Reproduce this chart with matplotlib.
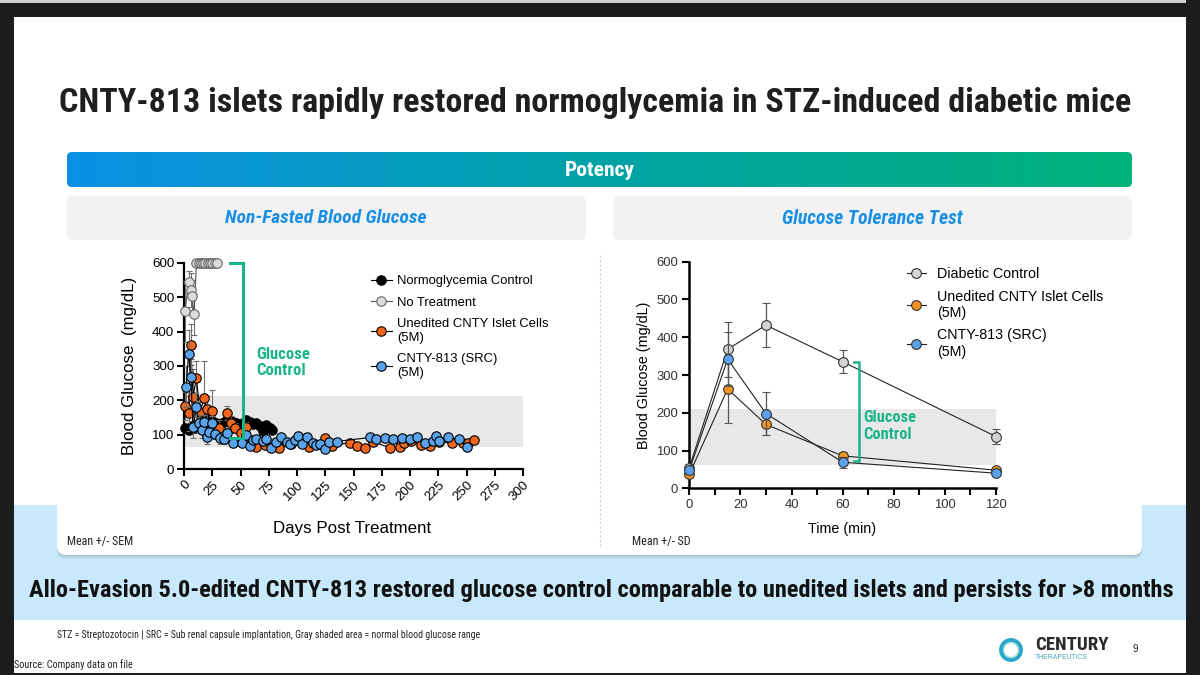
import os
import numpy as np
import matplotlib
matplotlib.use("Agg")
import matplotlib.pyplot as plt
from matplotlib import font_manager as fm
from matplotlib.patches import FancyBboxPatch, Rectangle, Circle
from matplotlib.colors import LinearSegmentedColormap

# ---------------- data ----------------
# Non-fasted blood glucose (mean +/- SEM)
nt_days = [1, 4, 6, 7, 9, 11, 13, 15, 17, 19, 21, 23, 25, 27, 29]
nt_vals = [459, 546, 522, 505, 451, 600, 600, 600, 600, 600, 600, 600, 600, 600, 600]
nt_err = [90, 30, 50, 45, 60, 0, 0, 0, 0, 0, 0, 0, 0, 0, 0]

norm_days = [1, 4, 7, 10, 13, 16, 19, 22, 25, 28, 31, 34, 37, 40, 43, 46,
             49, 52, 55, 58, 61, 64, 67, 70, 73, 76, 78]
norm_vals = [120, 115, 125, 120, 130, 135, 140, 148, 140, 135, 130, 133, 140,
             143, 138, 135, 128, 135, 143, 138, 132, 133, 125, 110, 128, 120, 114]
norm_err = [10, 10, 12, 10, 12, 12, 15, 15, 12, 12, 10, 10, 12, 12, 10, 10,
            10, 10, 10, 10, 8, 8, 8, 8, 8, 8, 8]

uned_days = [1, 4, 6, 8, 11, 14, 18, 20, 23, 25, 31, 38, 42, 45, 50, 55, 58,
             64, 72, 82, 84, 95, 111, 125, 131, 147, 153, 160, 167, 182, 191,
             195, 201, 210, 218, 226, 237, 247, 251, 257]
uned_vals = [184, 162, 362, 211, 265, 167, 206, 174, 133, 169, 119, 164, 135,
             119, 104, 123, 75, 65, 70, 77, 60, 72, 65, 89, 68, 77, 68, 62, 80,
             62, 64, 77, 82, 69, 67, 78, 77, 77, 77, 85]
uned_err = [40, 50, 60, 80, 50, 40, 110, 40, 30, 60, 25, 20, 20, 15, 15, 15,
            10, 10, 10, 10, 10, 10, 8, 10, 8, 8, 8, 8, 8, 8, 8, 8, 8, 8, 8, 8,
            8, 8, 8, 8]

cnty_days = [2, 4, 6, 8, 11, 13, 16, 18, 20, 22, 25, 27, 32, 35, 38, 43, 51,
             55, 58, 61, 64, 70, 73, 77, 81, 86, 91, 94, 98, 101, 104, 109,
             114, 117, 120, 125, 128, 135, 165, 170, 178, 185, 193, 200, 206,
             213, 220, 223, 226, 234, 243, 250]
cnty_vals = [240, 335, 269, 121, 182, 133, 114, 138, 92, 109, 133, 102, 89,
             88, 104, 75, 77, 99, 68, 85, 87, 82, 88, 62, 80, 92, 80, 72, 85,
             97, 73, 94, 75, 70, 72, 57, 78, 80, 92, 88, 89, 87, 91, 87, 94,
             77, 83, 96, 83, 92, 87, 65]
cnty_err = [60, 70, 50, 30, 40, 25, 25, 20, 20, 20, 20, 15, 15, 15, 15, 12,
            12, 10, 10, 10, 10, 10, 10, 10, 10, 10, 10, 10, 10, 10, 10, 10,
            8, 8, 8, 8, 8, 8, 10, 10, 8, 8, 8, 8, 10, 8, 8, 10, 8, 8, 8, 8]

# Glucose tolerance test (mean +/- SD)
gtt_time = [0, 15, 30, 60, 120]
gtt_diab = [55, 368, 432, 335, 137]
gtt_diab_sd = [10, 73, 58, 30, 21]
gtt_uned = [37, 263, 169, 86, 48]
gtt_uned_sd = [8, 90, 27, 10, 5]
gtt_cnty = [48, 342, 198, 69, 40]
gtt_cnty_sd = [8, 72, 57, 14, 5]

normal_range_left = (65, 212)
normal_range_right = (63, 211)

left_xticks = list(range(0, 301, 25))
right_xticks = list(range(0, 121, 20))
yticks = list(range(0, 601, 100))

GREEN = "#19b48a"
BLUE = "#5aa2ea"
ORANGE = "#f0661c"
GRAY = "#dcdcdc"


# ---------------- fonts ----------------
def pick_font(names, fallback):
    files = {os.path.splitext(os.path.basename(f.fname))[0]: f.fname
             for f in fm.fontManager.ttflist}
    for n in names:
        if n in files:
            return fm.FontProperties(fname=files[n])
    return fallback


cond_bold = pick_font(["RobotoCondensed-Bold", "DejaVuSansCondensed-Bold",
                       "LiberationSansNarrow-Bold", "Roboto-Bold"],
                      fm.FontProperties(family="Roboto", weight="bold"))
cond_bold_it = pick_font(["RobotoCondensed-BoldItalic",
                          "DejaVuSansCondensed-BoldOblique",
                          "LiberationSansNarrow-BoldItalic", "Roboto-BoldItalic"],
                         fm.FontProperties(family="Roboto", weight="bold",
                                           style="italic"))
cond_reg = pick_font(["RobotoCondensed-Regular", "DejaVuSansCondensed",
                      "LiberationSansNarrow-Regular", "Roboto-Regular"],
                     fm.FontProperties(family="Roboto"))

plt.rcParams["font.family"] = ["Liberation Sans", "DejaVu Sans"]

fig = plt.figure(figsize=(12, 6.75), dpi=100, facecolor="#1d1d1d")
renderer = fig.canvas.get_renderer()


def fit(t, width):
    w = t.get_window_extent(renderer).width
    t.set_fontsize(t.get_fontsize() * width / w)
    return t


# ---------------- slide background (pixel coords) ----------------
bg = fig.add_axes([0, 0, 1, 1], zorder=-1)
bg.set_xlim(0, 1200)
bg.set_ylim(675, 0)
bg.axis("off")

bg.add_patch(Rectangle((0, 0), 1186, 3, fc="#cfcfcf", lw=0))
bg.add_patch(Rectangle((14, 17), 1172, 656, fc="white", lw=0))
bg.add_patch(Rectangle((14, 505), 1172, 115, fc="#c7e9fb", lw=0))

# card with soft shadow
for off, a in [(4, 0.05), (2.5, 0.06), (1, 0.07)]:
    bg.add_patch(FancyBboxPatch((57, 143 + off), 1085, 412, lw=0, fc="black",
                                alpha=a, boxstyle="round,pad=0,rounding_size=9"))
bg.add_patch(FancyBboxPatch((57, 143), 1085, 412, lw=0, fc="white",
                            boxstyle="round,pad=0,rounding_size=9"))

# gradient header bar
bar = FancyBboxPatch((67, 152), 1065, 35, lw=0, fc="none",
                     boxstyle="round,pad=0,rounding_size=5")
bg.add_patch(bar)
cmap = LinearSegmentedColormap.from_list("pot", ["#0a8fe4", "#00a3a6", "#00b27a"])
im = bg.imshow(np.linspace(0, 1, 256)[None, :], extent=[67, 1132, 187, 152],
               cmap=cmap, aspect="auto", zorder=2)
im.set_clip_path(bar)
bg.set_xlim(0, 1200)
bg.set_ylim(675, 0)

for x0 in (67, 613):
    bg.add_patch(FancyBboxPatch((x0, 196), 519, 44, lw=0, fc="#f2f2f2",
                                boxstyle="round,pad=0,rounding_size=6"))

bg.plot([600, 600], [255, 548], color="#cfcfcf", lw=0.8, ls=(0, (2, 2)))

t = bg.text(595.5, 103, "CNTY-813 islets rapidly restored normoglycemia in STZ-induced diabetic mice",
            fontproperties=cond_bold, fontsize=22, color="#1f1f1f",
            ha="center", va="center")
fit(t, 1071)
t = bg.text(600, 170, "Potency", fontproperties=cond_bold, fontsize=14,
            color="white", ha="center", va="center")
fit(t, 70)
t = bg.text(326, 218, "Non-Fasted Blood Glucose", fontproperties=cond_bold_it,
            fontsize=13, color="#1a8fe3", ha="center", va="center")
fit(t, 200)
t = bg.text(872, 218, "Glucose Tolerance Test", fontproperties=cond_bold_it,
            fontsize=13, color="#1a8fe3", ha="center", va="center")
fit(t, 180)
t = bg.text(601, 590, "Allo-Evasion 5.0-edited CNTY-813 restored glucose control "
            "comparable to unedited islets and persists for >8 months",
            fontproperties=cond_bold, fontsize=16, color="#111111",
            ha="center", va="center")
fit(t, 1145)
t = bg.text(67, 542, "Mean +/- SEM", fontproperties=cond_reg, fontsize=7,
            color="#222", ha="left", va="center")
fit(t, 67)
t = bg.text(632, 542, "Mean +/- SD", fontproperties=cond_reg, fontsize=7,
            color="#222", ha="left", va="center")
fit(t, 59)
t = bg.text(57, 635, "STZ = Streptozotocin | SRC = Sub renal capsule implantation, "
            "Gray shaded area = normal blood glucose range",
            fontproperties=cond_reg, fontsize=6, color="#222",
            ha="left", va="center")
fit(t, 423)
t = bg.text(14, 665, "Source: Company data on file", fontproperties=cond_reg,
            fontsize=6, color="#222", ha="left", va="center")
fit(t, 119)

# logo + page number
bg.add_patch(Circle((1011, 650), 10, fill=False, ec="#2aa6cf", lw=2.8))
bg.add_patch(Circle((1011, 650), 7.3, fill=False, ec="#8fdcc4", lw=0.8))
t = bg.text(1035, 644.5, "CENTURY", fontproperties=cond_bold, fontsize=10,
            color="#2a2a2a", ha="left", va="center")
fit(t, 73)
t = bg.text(1035, 657.5, "THERAPEUTICS", fontsize=4, color="#48a9bd",
            ha="left", va="center")
fit(t, 52)
bg.text(1135, 649, "9", fontsize=7, color="#222", ha="center", va="center")

# ---------------- left chart ----------------
axL = fig.add_axes([184 / 1200, 1 - 469 / 675, 339 / 1200, 206 / 675])
axL.set_facecolor("none")
axL.axhspan(*normal_range_left, color="#e8e8e8", lw=0, zorder=0)

common = dict(fmt="-o", color="black", lw=0.8, ms=6.8, mew=0.8, mec="black",
              ecolor="#6e6e6e", elinewidth=0.8, capsize=2.5, capthick=0.8,
              clip_on=False)
e1 = axL.errorbar(nt_days, nt_vals, yerr=nt_err, mfc=GRAY, zorder=3,
                  **{**common, "color": "#555555", "mec": "#666666"})
e2 = axL.errorbar(norm_days, norm_vals, yerr=norm_err, mfc="black", zorder=3,
                  **common)
e3 = axL.errorbar(uned_days, uned_vals, yerr=uned_err, mfc=ORANGE, zorder=4,
                  **common)
e4 = axL.errorbar(cnty_days, cnty_vals, yerr=cnty_err, mfc=BLUE, zorder=5,
                  **common)

axL.set_xlim(0, 300)
axL.set_ylim(0, 600)
axL.set_xticks(left_xticks)
axL.set_xticklabels([str(v) for v in left_xticks], rotation=45, ha="right",
                    va="top", rotation_mode="anchor")
axL.set_yticks(yticks)
for s in ("top", "right"):
    axL.spines[s].set_visible(False)
for s in ("left", "bottom"):
    axL.spines[s].set_linewidth(1.6)
axL.tick_params(direction="out", length=5, width=1.5, labelsize=9.6,
                colors="black", pad=2)
axL.set_ylabel("Blood Glucose  (mg/dL)", fontsize=12.2)
axL.yaxis.set_label_coords(-0.139, 0.5)
axL.set_xlabel("Days Post Treatment", fontsize=12.2, va="top")
axL.xaxis.set_label_coords(0.496, -0.25)

axL.plot([41, 52, 52, 41], [600, 600, 91, 91], color=GREEN, lw=2.2,
         clip_on=False, solid_joinstyle="miter", zorder=6)
t = axL.text(64.3, 310, "Glucose\nControl", fontproperties=cond_bold,
             fontsize=12, color=GREEN, ha="left", va="center", linespacing=1.1)
fit(t, 54)

legL = axL.legend([e2[0], e1[0], e3[0], e4[0]],
                  ["Normoglycemia Control", "No Treatment",
                   "Unedited CNTY Islet Cells\n(5M)", "CNTY-813 (SRC)\n(5M)"],
                  loc="upper left", bbox_to_anchor=(371 / 1200, 1 - 275 / 675),
                  bbox_transform=fig.transFigure, frameon=False, fontsize=9.4,
                  borderpad=0, handlelength=1.6, handletextpad=0.4,
                  labelspacing=0.72, borderaxespad=0)

# ---------------- right chart ----------------
axR = fig.add_axes([689.3 / 1200, 1 - 488.3 / 675, 306.7 / 1200, 226.6 / 675])
axR.set_facecolor("none")
axR.axhspan(*normal_range_right, color="#e8e8e8", lw=0, zorder=0)

commonR = dict(fmt="-o", color="#222222", lw=0.8, ms=7, mew=0.8, mec="#333333",
               ecolor="#555555", elinewidth=0.9, capsize=3, capthick=0.9,
               clip_on=False)
r1 = axR.errorbar(gtt_time, gtt_diab, yerr=gtt_diab_sd, mfc="#d4d4d4",
                  zorder=3, **commonR)
r2 = axR.errorbar(gtt_time, gtt_uned, yerr=gtt_uned_sd, mfc="#f39422",
                  zorder=4, **commonR)
r3 = axR.errorbar(gtt_time, gtt_cnty, yerr=gtt_cnty_sd, mfc=BLUE,
                  zorder=5, **commonR)

axR.set_xlim(0, 120)
axR.set_ylim(0, 600)
axR.set_xticks(right_xticks)
axR.set_xticks(list(range(10, 120, 20)), minor=True)
axR.set_yticks(yticks)
for s in ("top", "right"):
    axR.spines[s].set_visible(False)
for s in ("left", "bottom"):
    axR.spines[s].set_linewidth(1.8)
axR.tick_params(which="both", direction="out", length=5, width=1.5,
                labelsize=9.4, colors="black", labelcolor="#333333", pad=3)
axR.set_ylabel("Blood Glucose (mg/dL)", fontsize=10.4)
axR.yaxis.set_label_coords(-0.125, 0.5)
axR.set_xlabel("Time (min)", fontsize=10.3, va="top")
axR.xaxis.set_label_coords(0.498, -0.149)

axR.plot([64.5, 66.4, 66.4, 64.5], [335, 335, 73, 73], color=GREEN, lw=1.8,
         clip_on=False, solid_joinstyle="miter", zorder=6)
t = axR.text(68, 165, "Glucose\nControl", fontproperties=cond_bold,
             fontsize=12, color=GREEN, ha="left", va="center", linespacing=1.15)
fit(t, 53)

legR = axR.legend([r1[0], r2[0], r3[0]],
                  ["Diabetic Control", "Unedited CNTY Islet Cells\n(5M)",
                   "CNTY-813 (SRC)\n(5M)"],
                  loc="upper left", bbox_to_anchor=(907 / 1200, 1 - 267 / 675),
                  bbox_transform=fig.transFigure, frameon=False, fontsize=10.3,
                  borderpad=0, handlelength=1.3, handletextpad=0.8,
                  labelspacing=0.6, borderaxespad=0)

fig.savefig("out.png", dpi=100, facecolor=fig.get_facecolor())
